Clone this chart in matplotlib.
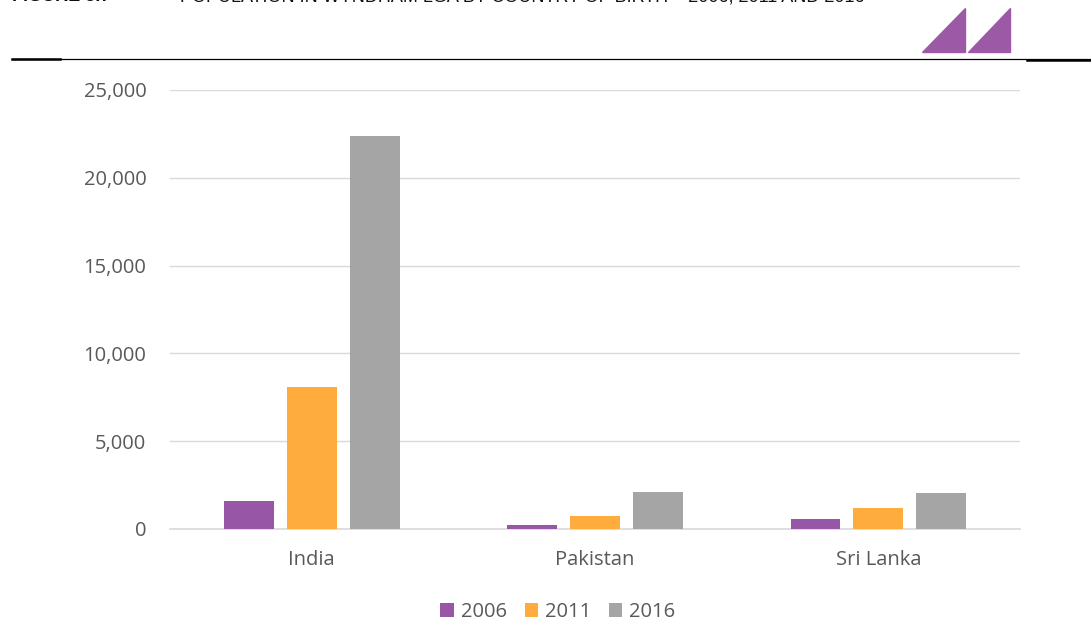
import numpy as np
import matplotlib.pyplot as plt
from matplotlib.patches import Polygon
from matplotlib.lines import Line2D

countries = ["India", "Pakistan", "Sri Lanka"]
years = ["2006", "2011", "2016"]
pop_2006 = [1600, 230, 570]
pop_2011 = [8100, 740, 1200]
pop_2016 = [22400, 2100, 2050]
colors = ["#9857A6", "#FFAC3E", "#A5A5A5"]

plt.rcParams['font.family'] = ['Open Sans', 'DejaVu Sans']

fig = plt.figure(figsize=(10.91, 6.24), dpi=100)
ax = fig.add_axes([170 / 1091, 1 - 529 / 624, 850 / 1091, 439 / 624])

x = np.arange(len(countries))
w = 0.176
step = 0.222
for i, (vals, c) in enumerate(zip([pop_2006, pop_2011, pop_2016], colors)):
    ax.bar(x + (i - 1) * step, vals, width=w, color=c, label=years[i], zorder=3)

ax.set_xlim(-0.5, 2.5)
ax.set_ylim(0, 25000)
ax.set_yticks(np.arange(0, 25001, 5000))
ax.yaxis.set_major_formatter(plt.FuncFormatter(lambda v, p: f"{int(v):,}"))
ax.grid(axis='y', color='#D9D9D9', linewidth=1, zorder=0)
for s in ['top', 'right', 'left']:
    ax.spines[s].set_visible(False)
ax.spines['bottom'].set_color('#D9D9D9')
ax.spines['bottom'].set_linewidth(1.2)
ax.tick_params(length=0, labelsize=14.5, labelcolor='#595959')
ax.tick_params(axis='y', pad=17)
ax.tick_params(axis='x', pad=15)
ax.set_xticks(x)
ax.set_xticklabels(countries)

ax.legend(loc='center', ncol=3, frameon=False, fontsize=14.5, labelcolor='#595959',
          handlelength=0.65, handleheight=0.65, handletextpad=0.35, columnspacing=0.9,
          bbox_to_anchor=((558 - 170) / 850, -(612 - 529) / 439), bbox_transform=ax.transAxes)

# header: clipped title text, rules and triangle logo
fig.text(12 / 1091, 1.005, "FIGURE 5.7", fontsize=13, fontweight='bold', color='#111111',
         family=['Liberation Sans', 'DejaVu Sans'], va='center', ha='left')
fig.text(180 / 1091, 1.005, "POPULATION IN WYNDHAM LGA BY COUNTRY OF BIRTH \u2013 2006, 2011 AND 2016",
         fontsize=13, color='#111111', family=['Liberation Sans', 'DejaVu Sans'], va='center', ha='left')

H = 624
fig.add_artist(Line2D([12 / 1091, 1.0], [1 - 58.5 / H] * 2, color='black', linewidth=0.9,
                      transform=fig.transFigure))
fig.add_artist(Line2D([12 / 1091, 60 / 1091], [1 - 59 / H] * 2, color='black', linewidth=1.8,
                      transform=fig.transFigure))
fig.add_artist(Line2D([1027 / 1091, 1.0], [1 - 59.5 / H] * 2, color='black', linewidth=1.8,
                      transform=fig.transFigure))
for x0, x1 in [(922, 965), (968, 1010)]:
    tri = Polygon([(x0 / 1091, 1 - 52 / H), (x1 / 1091, 1 - 52 / H), (x1 / 1091, 1 - 8 / H)],
                  closed=True, color='#9B59A6', transform=fig.transFigure)
    fig.add_artist(tri)

fig.savefig("out.png", dpi=100)
